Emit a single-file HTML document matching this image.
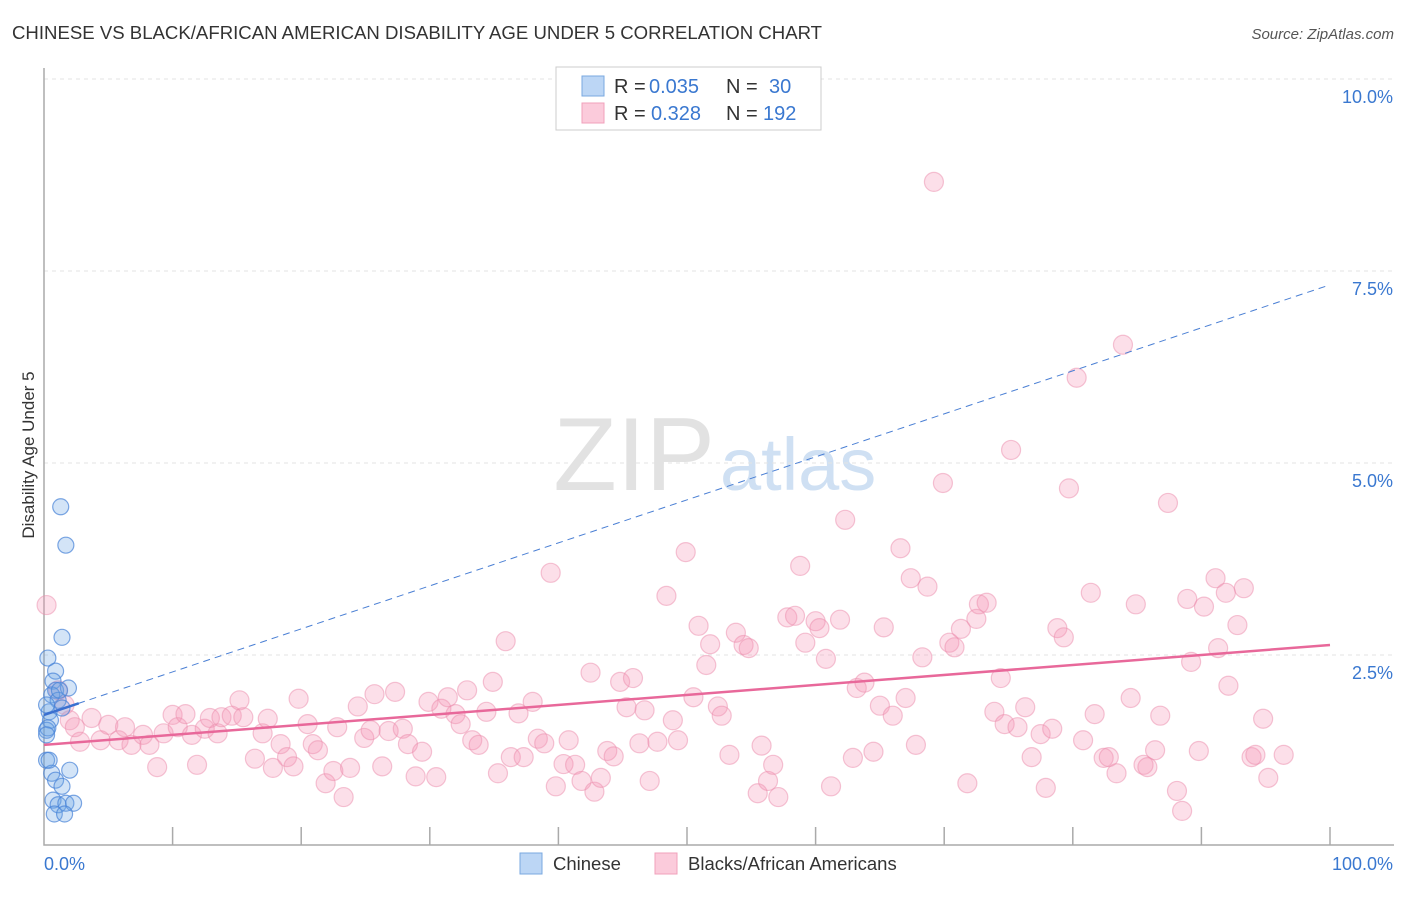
<!DOCTYPE html>
<html><head><meta charset="utf-8"><style>
body{margin:0;background:#fff;font-family:"Liberation Sans",sans-serif;}
svg text{font-family:"Liberation Sans",sans-serif;}
</style></head><body>
<svg id="chart" width="1406" height="892" xmlns="http://www.w3.org/2000/svg">
<text x="12" y="39" font-size="18.6" fill="#333">CHINESE VS BLACK/AFRICAN AMERICAN DISABILITY AGE UNDER 5 CORRELATION CHART</text>
<text x="1394" y="39" font-size="15" fill="#555" text-anchor="end" font-style="italic">Source: ZipAtlas.com</text>
<text x="715" y="490" font-size="104" fill="#e2e2e2" text-anchor="end" font-family="Liberation Serif">ZIP</text>
<text x="720" y="490" font-size="74" fill="#cfe0f3">atlas</text>
<text transform="translate(34,455) rotate(-90)" font-size="17" fill="#333" text-anchor="middle">Disability Age Under 5</text>
<g id="grid"></g><g id="axes"></g><g id="pts"></g><g id="lines"></g>
<g>
<rect x="556" y="67" width="265" height="63" fill="#fff" stroke="#ccc"/>
<rect x="582" y="76" width="22" height="20" fill="#bcd6f5" stroke="#7aa8e0"/>
<text x="614" y="93" font-size="20" fill="#333">R = </text><text x="649" y="93" font-size="20" fill="#3a78d0">0.035</text>
<text x="726" y="93" font-size="20" fill="#333">N = </text><text x="769" y="93" font-size="20" fill="#3a78d0">30</text>
<rect x="582" y="103" width="22" height="20" fill="#fbcbdb" stroke="#f0a0bb"/>
<text x="614" y="120" font-size="20" fill="#333">R = </text><text x="651" y="120" font-size="20" fill="#3a78d0">0.328</text>
<text x="726" y="120" font-size="20" fill="#333">N = </text><text x="763" y="120" font-size="20" fill="#3a78d0">192</text>
</g>
<g>
<rect x="520" y="853" width="22" height="21" fill="#bcd6f5" stroke="#7aa8e0"/>
<text x="553" y="870" font-size="18.5" fill="#333">Chinese</text>
<rect x="655" y="853" width="22" height="21" fill="#fbcbdb" stroke="#f0a0bb"/>
<text x="688" y="870" font-size="18.5" fill="#333">Blacks/African Americans</text>
</g>
</svg>
<script>
const yTicks=[2.5,5.0,7.5,10.0];
const xTickLabels=["0.0%","100.0%"];
const pinkX=[0.2,1.1,1.6,2.0,2.8,2.4,3.7,4.4,5.0,5.8,6.3,6.8,7.7,8.2,8.8,9.3,10.0,10.4,11.0,11.5,11.9,12.5,12.9,13.5,13.8,14.6,15.2,15.5,16.4,17.0,17.4,17.8,18.4,18.9,19.4,19.8,20.5,20.9,21.3,21.9,22.5,22.8,23.3,23.8,24.4,24.9,25.4,25.7,26.3,26.8,27.3,27.9,28.3,28.9,29.4,29.9,30.5,30.9,31.4,32.0,32.4,32.9,33.3,33.8,34.4,34.9,35.3,35.9,36.3,36.9,37.3,38.0,38.4,38.9,39.4,39.8,40.4,40.8,41.3,41.8,42.5,42.8,43.3,43.8,44.3,44.8,45.3,45.8,46.3,46.7,47.1,47.7,48.4,48.9,49.3,49.9,50.5,50.9,51.5,51.8,52.4,52.7,53.3,53.8,54.4,54.8,55.5,55.8,56.3,56.7,57.1,57.8,58.4,58.8,59.2,60.0,60.3,60.8,61.2,61.9,62.3,62.9,63.2,63.8,64.5,65.0,65.3,66.0,66.6,67.0,67.4,67.8,68.3,68.7,69.2,69.9,70.4,70.8,71.3,71.8,72.5,72.7,73.3,73.9,74.4,74.7,75.2,75.7,76.3,76.8,77.5,77.9,78.4,78.8,79.3,79.7,80.3,80.8,81.4,81.7,82.4,82.8,83.4,83.9,84.5,84.9,85.5,85.8,86.4,86.8,87.4,88.1,88.5,88.9,89.2,89.8,90.2,91.1,91.3,91.9,92.1,92.8,93.3,93.9,94.2,94.8,95.2,96.4];
const pinkY=[3.15,2.04,1.85,1.65,1.37,1.56,1.68,1.39,1.59,1.39,1.56,1.33,1.46,1.33,1.04,1.48,1.72,1.56,1.73,1.46,1.07,1.54,1.68,1.48,1.69,1.71,1.91,1.69,1.15,1.48,1.67,1.03,1.34,1.17,1.05,1.93,1.60,1.34,1.26,0.83,0.99,1.56,0.65,1.03,1.83,1.42,1.52,1.99,1.05,1.51,2.02,1.54,1.34,0.92,1.24,1.89,0.91,1.80,1.95,1.73,1.60,2.04,1.39,1.33,1.76,2.15,0.96,2.68,1.17,1.74,1.17,1.89,1.41,1.35,3.57,0.79,1.08,1.39,1.07,0.86,2.27,0.72,0.90,1.25,1.18,2.15,1.82,2.2,1.35,1.78,0.86,1.37,3.27,1.65,1.39,3.84,1.95,2.88,2.37,2.64,1.83,1.71,1.2,2.79,2.63,2.59,0.70,1.32,0.86,1.07,0.65,2.99,3.01,3.66,2.66,2.94,2.85,2.45,0.79,2.96,4.26,1.16,2.07,2.14,1.24,1.84,2.86,1.71,3.89,1.94,3.5,1.33,2.47,3.39,8.66,4.74,2.66,2.6,2.84,0.83,2.97,3.16,3.18,1.76,2.2,1.6,5.17,1.56,1.82,1.17,1.47,0.77,1.54,2.85,2.73,4.67,6.11,1.39,3.31,1.73,1.16,1.17,0.96,6.54,1.94,3.16,1.07,1.04,1.26,1.71,4.48,0.73,0.47,3.23,2.41,1.25,3.13,3.5,2.59,3.31,2.10,2.89,3.37,1.17,1.2,1.67,0.9,1.2];
const blueX=[1.3,1.7,1.4,0.3,0.9,0.7,0.9,1.9,0.6,1.1,0.4,0.5,1.4,0.2,0.3,0.2,0.6,2.0,0.9,1.4,0.7,1.1,1.7,2.3,0.8,1.6,0.4,0.2,1.2,0.2];
const blueY=[4.43,3.93,2.73,2.46,2.29,2.16,2.04,2.07,1.98,1.91,1.76,1.65,1.81,1.52,1.55,1.13,0.96,1.0,0.87,0.79,0.61,0.55,0.57,0.57,0.43,0.43,1.13,1.85,2.04,1.46];
const pinkTrend=[1.33,2.63];
const blueTrend=[1.72,7.32];
const NS="http://www.w3.org/2000/svg";
const X0=44,X1=1330,Y0=847,YPX=76.8;
const sx=v=>X0+(X1-X0)*v/100;
const sy=v=>Y0-v*YPX;
function mk(tag,attrs,parent){const e=document.createElementNS(NS,tag);for(const k in attrs)e.setAttribute(k,attrs[k]);parent.appendChild(e);return e;}
const grid=document.getElementById('grid'),axes=document.getElementById('axes'),pts=document.getElementById('pts'),lines=document.getElementById('lines');
yTicks.forEach(t=>{
 const l=mk('line',{x1:X0,x2:1394,y1:sy(t),y2:sy(t),stroke:'#e3e3e3','stroke-dasharray':'4,4'},grid);
 
 
 const tx=mk('text',{x:1393,y:sy(t)+24,'font-size':18,fill:'#3a78d0','text-anchor':'end'},axes);
 tx.textContent=t.toFixed(1)+'%';
 
 
});
const ax=mk('path',{d:`M${X0} 68 V${Y0-2} H1394`,stroke:'#aaa',fill:'none','stroke-width':1.5},axes);


for(let i=1;i<=10;i++){
 const t=mk('line',{x1:sx(i*10),x2:sx(i*10),y1:827,y2:845,stroke:'#aaa','stroke-width':1.5},axes);
 
 
}
[[X0,'start',0],[1393,'end',1]].forEach(([x,a,i])=>{
 const tx=mk('text',{x:x,y:870,'font-size':18,fill:'#3a78d0','text-anchor':a},axes);
 tx.textContent=xTickLabels[i];
 
 
});
pinkX.forEach((v,i)=>{
 const c=mk('circle',{cx:sx(v),cy:sy(pinkY[i]),r:9.5,fill:'rgba(244,150,182,0.3)',stroke:'rgba(236,140,172,0.5)','stroke-width':1.2},pts);
 
 
});
blueX.forEach((v,i)=>{
 const c=mk('circle',{cx:sx(v),cy:sy(blueY[i]),r:8,fill:'rgba(110,165,230,0.3)',stroke:'rgba(70,130,215,0.7)','stroke-width':1.2},pts);
 
 
});
const bl=mk('line',{x1:sx(0),y1:sy(blueTrend[0]),x2:sx(100),y2:sy(blueTrend[1]),stroke:'#4a7fd4','stroke-width':1,'stroke-dasharray':'7,5'},lines);


const bs=mk('line',{x1:sx(0),y1:sy(blueTrend[0]),x2:sx(2.7),y2:sy(blueTrend[0]+(blueTrend[1]-blueTrend[0])*0.027),stroke:'#3a70d0','stroke-width':2.5},lines);


const pl=mk('line',{x1:sx(0),y1:sy(pinkTrend[0]),x2:sx(100),y2:sy(pinkTrend[1]),stroke:'#e8689a','stroke-width':2.5},lines);


</script>
</body></html>
